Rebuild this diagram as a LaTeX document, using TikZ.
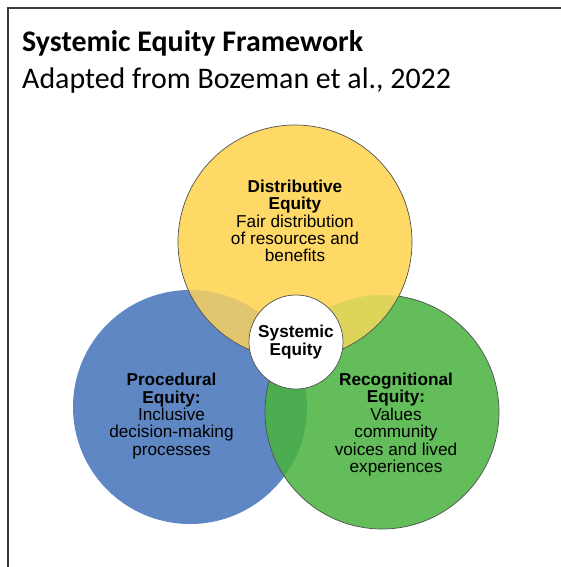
\documentclass[tikz,border=0pt]{standalone}
\usepackage{fontspec}
\setmainfont{Liberation Sans}
\newfontfamily\titlefont{Carlito}
\begin{document}
\definecolor{framegray}{HTML}{3A3A3A}
\definecolor{edgegray}{HTML}{505050}
\definecolor{eqyellow}{HTML}{FFD966}
\definecolor{eqblue}{HTML}{5E87C3}
\definecolor{eqgreen}{HTML}{62BD5A}
\definecolor{bluegreen}{HTML}{4CAC50}
\definecolor{yellowblue}{HTML}{E2C66F}
\definecolor{yellowgreen}{HTML}{DDD45A}
\begin{tikzpicture}[x=1pt,y=-1pt,
  edge/.style={draw=edgegray,line width=0.7pt},
  label/.style={align=center,font=\fontsize{17.2}{17.4}\selectfont,text=black,inner sep=0pt},
  headline/.style={anchor=base west,inner sep=0pt,font=\titlefont\fontsize{29.9}{32}\selectfont}]
\useasboundingbox (0,0) rectangle (561,567);
\fill[white] (0,0) rectangle (561,567);

% outer frame (only its top and left sides fall inside the page)
\draw[framegray,line width=2pt] (8,567) -- (8,8) -- (561,8);

% circle centres and radius
\def\rad{117}
\coordinate (cy) at (295,242);
\coordinate (cb) at (190,407);
\coordinate (cg) at (382,412);
\coordinate (cw) at (296,342);

% procedural (blue)
\fill[eqblue] (cb) circle[radius=\rad];
% recognitional (green)
\fill[eqgreen] (cg) circle[radius=\rad];
\begin{scope}
  \clip (cb) circle[radius=\rad];
  \fill[bluegreen] (cg) circle[radius=\rad];
\end{scope}
\draw[edge] (cg) circle[radius=\rad];
% distributive (yellow)
\fill[eqyellow] (cy) circle[radius=\rad];
\begin{scope}
  \clip (cy) circle[radius=\rad];
  \fill[yellowblue] (cb) circle[radius=\rad];
  \fill[yellowgreen] (cg) circle[radius=\rad];
\end{scope}
\draw[edge] (cy) circle[radius=\rad];
% centre
\filldraw[fill=white,draw=edgegray,line width=0.7pt] (cw) circle[radius=47];

% titles
\node[headline,font=\titlefont\bfseries\fontsize{29.9}{32}\selectfont] (title) at (22,51.7) {Systemic Equity Framework};
\node[headline] (subtitle) at (22,88.3) {Adapted from Bozeman et al., 2022};

% circle texts
\node[label] (dist) at (295,221) {\textbf{Distributive}\\\textbf{Equity}\\Fair distribution\\of resources and\\benefits};
\node[label] (syst) at (296,342) {\textbf{Systemic}\\\textbf{Equity}};
\node[label] (proc) at (171.5,416) {\textbf{Procedural}\\\textbf{Equity:}\\Inclusive\\decision-making\\processes};
\node[label] (reco) at (396,424.5) {\textbf{Recognitional}\\\textbf{Equity:}\\Values\\community\\voices and lived\\experiences};
\end{tikzpicture}
\end{document}
